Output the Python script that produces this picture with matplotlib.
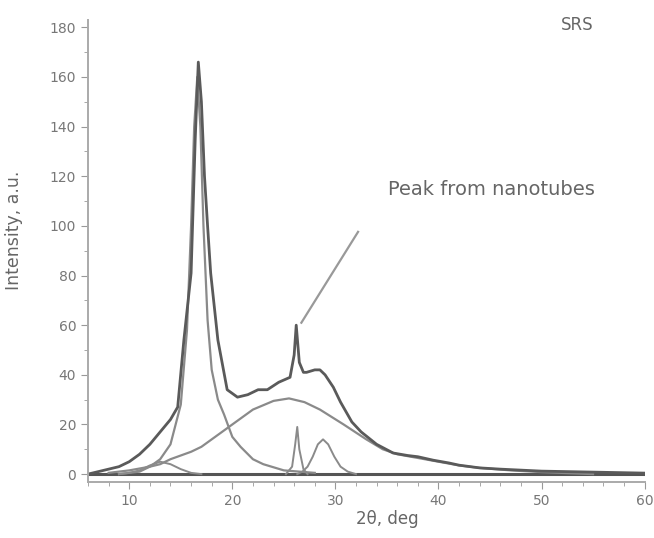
import numpy as np
import matplotlib
matplotlib.use('Agg')
from matplotlib import pyplot as plt
from matplotlib.ticker import MultipleLocator

meas_x = [6, 7, 8, 9, 10, 11, 12, 13, 14, 14.7, 15.3, 16.0, 16.4, 16.7, 17.0, 17.3, 17.6, 17.9,
          18.6, 19.5, 20.5, 21.5, 22.5, 23.4, 24.5, 25.6, 26.0, 26.2, 26.5, 26.9, 27.2, 28.0,
          28.5, 29.0, 29.8, 30.5, 31.6, 32.5, 33.1, 34.0, 35.6, 37, 38, 39.5, 41, 42, 44, 46, 50, 55, 60]
meas_y = [0, 1, 2, 3, 5, 8, 12, 17, 22, 27, 54, 81, 135, 166, 150, 120, 100, 81,
          54, 34, 31, 32, 34, 34, 37, 39, 48, 60, 45, 41, 41, 42,
          42, 40, 35, 29, 21, 17, 15, 12, 8.5, 7.5, 7, 5.6, 4.5, 3.6, 2.5, 2, 1.2, 0.8, 0.4]

# fitted components
main_x = [9, 11, 12, 13, 14, 15, 15.6, 16.0, 16.3, 16.6, 16.9, 17.2, 17.6, 18.0, 18.6, 19.2, 20.0, 20.8, 22.0, 23.0, 25.0, 28.0]
main_y = [0, 1, 3, 6, 12, 28, 58, 100, 140, 160, 140, 100, 62, 42, 30, 24, 15, 11, 6, 4, 1.5, 0.5]

left_x = [9, 10, 11, 12, 13, 14, 15, 16, 17]
left_y = [0, 0.5, 1.5, 3.5, 5, 4, 2, 0.5, 0]

broad_x = [8, 10, 12, 13, 14, 16, 17, 18, 20, 22, 24, 25.5, 27, 28.5, 30.8, 33, 34.6, 36, 38, 40, 42, 44, 47, 50, 55]
broad_y = [0.5, 1.5, 3, 4, 6, 9, 11, 14, 20, 26, 29.5, 30.5, 29, 26, 20, 14, 10, 8, 6.5, 5, 3.5, 2.5, 1.5, 0.8, 0]

spike_x = [25.2, 25.8, 26.1, 26.3, 26.5, 26.9, 27.3]
spike_y = [0, 3, 12, 19, 10, 2, 0]

peak2_x = [26.3, 26.8, 27.3, 27.8, 28.3, 28.8, 29.3, 29.9, 30.5, 31.2, 32.0]
peak2_y = [0, 1, 3, 7, 12, 14, 12, 7, 3, 1, 0]

base_x = [6, 60]
base_y = [0, 0]

fig = plt.figure(figsize=(6.54, 5.38), dpi=100)
ax = fig.add_axes([0.1346, 0.104, 0.851, 0.859])

comp_color = '#8a8a8a'
ax.plot(base_x, base_y, color='#555555', lw=2.2)
ax.plot(left_x, left_y, color=comp_color, lw=1.4)
ax.plot(broad_x, broad_y, color=comp_color, lw=1.6)
ax.plot(main_x, main_y, color=comp_color, lw=1.6)
ax.plot(spike_x, spike_y, color=comp_color, lw=1.4)
ax.plot(peak2_x, peak2_y, color=comp_color, lw=1.4)
ax.plot(meas_x, meas_y, color='#5a5a5a', lw=2.0)

# pointer to the nanotube peak
ax.plot([26.7, 32.2], [61, 97.6], color='#999999', lw=1.6)
ax.text(35.1, 114.5, 'Peak from nanotubes', fontsize=14, color='#666666', va='center')
ax.text(0.879, 0.989, 'SRS', transform=ax.transAxes, fontsize=12, color='#666666', ha='center', va='center')

ax.set_xlim(6, 60)
ax.set_ylim(-3.2, 183)
ax.xaxis.set_major_locator(MultipleLocator(10))
ax.xaxis.set_minor_locator(MultipleLocator(2))
ax.yaxis.set_major_locator(MultipleLocator(20))
ax.yaxis.set_minor_locator(MultipleLocator(10))
ax.tick_params(which='both', colors='#999999', labelcolor='#777777', labelsize=10, direction='out')
ax.tick_params(which='major', length=5)
ax.tick_params(which='minor', length=3)
for s in ['top', 'right']:
    ax.spines[s].set_visible(False)
for s in ['left', 'bottom']:
    ax.spines[s].set_color('#aaaaaa')
    ax.spines[s].set_linewidth(1.4)

ax.set_xlabel('2θ, deg', fontsize=12, color='#666666')
ax.set_ylabel('Intensity, a.u.', fontsize=12.5, color='#666666')
ax.xaxis.set_label_coords(0.538, -0.06)
ax.yaxis.set_label_coords(-0.116, 0.545)

plt.savefig('out.png', dpi=100)
